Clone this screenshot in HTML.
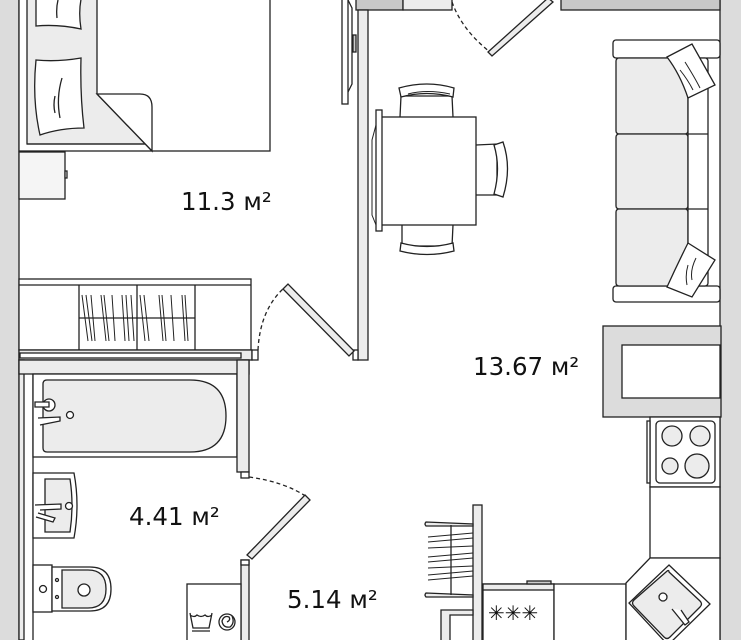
<!DOCTYPE html>
<html><head><meta charset="utf-8"><style>
html,body{margin:0;padding:0;background:#fff;width:741px;height:640px;overflow:hidden}
svg{display:block}
text{font-family:"DejaVu Sans","Liberation Sans",sans-serif;font-size:24.5px;fill:#111}
</style></head><body>
<svg width="741" height="640" viewBox="0 0 741 640" xmlns="http://www.w3.org/2000/svg" stroke="#222" stroke-width="1.3" fill="none">
<rect x="-1" y="-1" width="20" height="642" fill="#dcdcdc"/>
<rect x="720" y="-1" width="22" height="642" fill="#dcdcdc"/>
<rect x="356" y="-1" width="47" height="11" fill="#c8c8c8"/>
<rect x="403" y="-1" width="49" height="11" fill="#ececec"/>
<rect x="561" y="-1" width="159" height="11" fill="#c8c8c8"/>
<path d="M452 2 Q462 30 490 52" stroke-dasharray="4 3"/>
<polygon points="488,52 548,-2 553,2 492,56" fill="#ececec"/>
<rect x="19" y="-5" width="251" height="156" fill="#fff"/>
<polygon points="27,-5 97,-5 97,94 152,151 150,144 27,144" fill="#ececec"/>
<path d="M97 94 L140 94 Q152 94 152 107 L152 151 Z" fill="#fff"/>
<line x1="27" y1="144" x2="145" y2="144"/>
<path d="M36 -5 L36 26 Q58 24 81 29 Q78 10 82 -5" fill="#fff"/>
<path d="M36 60 Q58 62 81 58 Q80 95 84 128 Q60 128 40 135 Q32 100 36 60Z" fill="#fff"/>
<path d="M62 78 Q56 98 60 118 M55 96 Q53 105 55 113"/>
<path d="M58 0 Q56 8 57 18"/>
<rect x="19" y="152" width="46" height="47" fill="#f5f5f5"/>
<rect x="65" y="171" width="2" height="7" fill="#fff"/>
<rect x="342" y="-2" width="6" height="106" fill="#fff"/>
<path d="M348 0 L352 8 L352 84 L348 92"/>
<rect x="353" y="35" width="3" height="17" fill="#ccc"/>
<rect x="358" y="10" width="10" height="350" fill="#ececec"/>
<rect x="19" y="279" width="232" height="71" fill="#fff"/>
<line x1="19" y1="285" x2="251" y2="285"/>
<line x1="79" y1="285" x2="79" y2="350"/><line x1="137" y1="285" x2="137" y2="350"/><line x1="195" y1="285" x2="195" y2="350"/>
<line x1="79" y1="318" x2="195" y2="318"/>
<path d="M82 295 L88 341 M86 295 L92 341 M101 295 L106 341 M104 295 L109 341 M112 295 L115 341 M122 295 L125 341 M126 295 L129 341 M140 295 L145 341 M144 295 L149 341 M159 295 L163 341 M162 295 L166 341 M182 295 L185 341 M185 295 L188 341 M91 295 L95 341 M131 295 L134 341 M171 295 L174 341" stroke-width="1"/>
<rect x="19" y="350" width="233" height="10" fill="#ececec"/>
<rect x="20" y="353" width="221" height="5" fill="#fff"/>
<rect x="252" y="350" width="6" height="10" fill="#fff"/>
<rect x="353" y="350" width="5" height="10" fill="#fff"/>
<path d="M258 350 Q260 310 284 288" stroke-dasharray="4 3"/>
<polygon points="283,289 288,284 354,351 349,356" fill="#ececec"/>
<rect x="19" y="360" width="5" height="280" fill="#ececec"/>
<line x1="33" y1="374" x2="33" y2="640"/>
<rect x="19" y="360" width="230" height="14" fill="#ececec"/>
<rect x="33" y="374" width="204" height="83" fill="#fff"/>
<path d="M47 380 L190 380 Q226 380 226 416 Q226 452 190 452 L47 452 Q43 452 43 448 L43 384 Q43 380 47 380Z" fill="#ececec"/>
<circle cx="49" cy="405" r="6" fill="#fff"/>
<path d="M35 402 L49 402 L49 407 L35 407Z M38 418 L60 417 L60 421 L40 425" fill="#fff"/>
<circle cx="70" cy="415" r="3.5" fill="#fff"/>
<rect x="237" y="360" width="12" height="112" fill="#ececec"/>
<rect x="241" y="472" width="8" height="6" fill="#fff"/>
<path d="M249 477 Q285 482 307 497" stroke-dasharray="4 3"/>
<polygon points="305,495 310,500 252,559 247,555" fill="#ececec"/>
<rect x="241" y="560" width="8" height="82" fill="#ececec"/>
<rect x="241" y="560" width="8" height="5" fill="#fff"/>
<path d="M33 473 L74 473 Q80 505 74 538 L33 538Z" fill="#fff"/>
<path d="M45 479 L70 479 Q74 505 70 532 L45 532Z" fill="#ececec"/>
<path d="M35 505 L61 504 L61 509 L40 510 M38 513 L55 518 L53 522 L36 517" fill="#fff"/>
<circle cx="69" cy="506" r="3.5" fill="#fff"/>
<rect x="33" y="565" width="19" height="47" fill="#fff"/>
<path d="M52 567 L90 567 Q111 567 111 589 Q111 611 90 611 L52 611Z" fill="#fff"/>
<path d="M62 570 L88 570 Q106 570 106 589 Q106 608 88 608 L62 608Z" fill="#ececec"/>
<circle cx="84" cy="590" r="6" fill="#fff"/><circle cx="43" cy="589" r="3.5" fill="#fff"/>
<circle cx="57" cy="580" r="1.5"/><circle cx="57" cy="597" r="1.5"/>
<rect x="187" y="584" width="54" height="60" fill="#fff"/>
<path d="M190 613 L193 628 L209 628 L212 613 M190 615 Q194 618 197 615 Q201 618 205 615 Q208 618 212 615 M192 631 L210 631"/>
<circle cx="227" cy="622" r="8"/><path d="M227 622 Q231 620 229 617 Q224 615 222 621 Q223 628 230 627 Q235 623 232 616"/>
<rect x="473" y="505" width="9" height="137" fill="#ececec"/>
<path d="M426 522 L473 524 L473 526 L426 526 Q424 524 426 522Z M426 593 L473 595 L473 597 L426 597 Q424 595 426 593Z" fill="#ececec"/>
<line x1="451" y1="525" x2="451" y2="595"/>
<path d="M428 537 L473 533 M428 542 L473 538 M428 557 L473 553 M428 562 L473 558 M428 575 L473 571 M428 580 L473 576 M428 548 L473 546 M428 568 L473 566" stroke-width="1"/>
<path d="M441 642 L441 610 L473 610 L473 615 L450 615 L450 642" fill="#ececec"/>
<rect x="483" y="584" width="71" height="60" fill="#fff"/>
<rect x="483" y="584" width="71" height="6" fill="#ececec"/>
<rect x="527" y="581" width="24" height="3" fill="#ccc"/>
<text x="488" y="620" stroke="none" style="font-size:20px">✳✳✳</text>
<rect x="554" y="584" width="72" height="60" fill="#fff"/>
<rect x="603" y="326" width="118" height="91" fill="#dcdcdc"/>
<rect x="622" y="345" width="98" height="53" fill="#fff"/>
<rect x="650" y="417" width="70" height="70" fill="#fff"/>
<rect x="647" y="421" width="3" height="62" fill="#fff"/>
<rect x="656" y="421" width="59" height="62" rx="4" fill="#fff"/>
<circle cx="672" cy="436" r="10" fill="#ececec"/><circle cx="700" cy="436" r="10" fill="#ececec"/>
<circle cx="670" cy="466" r="8" fill="#ececec"/><circle cx="697" cy="466" r="12" fill="#ececec"/>
<rect x="650" y="487" width="70" height="71" fill="#fff"/>
<polygon points="650,558 720,558 720,642 626,642 626,583" fill="#fff"/>
<path d="M669 565 L710 604 L668 645 L629 603Z" fill="#fff"/>
<path d="M669 572 L700 601 Q703 604 700 607 L670 637 Q667 640 664 637 L634 606 Q631 603 634 600 L666 572 Q669 569 669 572Z" fill="#ececec"/>
<circle cx="663" cy="597" r="4" fill="#fff"/>
<path d="M672 609 L685 625 L689 622 L681 610" fill="#fff"/>
<rect x="613" y="40" width="107" height="18" rx="3" fill="#fff"/>
<rect x="613" y="286" width="107" height="16" rx="3" fill="#fff"/>
<rect x="616" y="58" width="72" height="76" rx="3" fill="#ececec"/>
<rect x="616" y="134" width="72" height="75" rx="3" fill="#ececec"/>
<rect x="616" y="209" width="72" height="77" rx="3" fill="#ececec"/>
<rect x="688" y="58" width="20" height="228" rx="3" fill="#fff"/>
<line x1="688" y1="134" x2="708" y2="134"/><line x1="688" y1="209" x2="708" y2="209"/>
<path d="M667 57 L692 44 L715 85 L688 98 Q680 74 667 57Z" fill="#fff"/>
<path d="M667 287 L692 297 L715 260 L688 243 Q677 265 667 287Z" fill="#fff"/>
<path d="M685 62 Q695 78 700 88 M680 70 Q688 80 693 90 M688 265 Q685 275 687 285 M696 258 Q690 270 692 280" stroke-width="1"/>
<path d="M400 117 L401 96 L452 96 L453 117" fill="#fff"/>
<path d="M399 88 Q427 80 454 88 L453 97 Q427 90 401 97Z" fill="#fff"/>
<path d="M408 94 Q427 89 450 94" stroke-width="1"/>
<path d="M402 225 L402 246 L452 246 L453 225" fill="#fff"/>
<path d="M400 251 Q427 258 454 251 L453 243 Q427 250 401 243Z" fill="#fff"/>
<path d="M476 145 L497 144 L497 195 L476 195" fill="#fff"/>
<path d="M503 142 Q512 168 503 197 L494 194 Q501 168 494 145Z" fill="#fff"/>
<rect x="380" y="117" width="96" height="108" fill="#fff"/>
<rect x="376" y="110" width="6" height="121" fill="#fff"/>
<path d="M376 125 L372 140 L372 215 L376 225" stroke-width="1"/>
<text x="181" y="210" stroke="none">11.3 м²</text>
<text x="473" y="375" stroke="none">13.67 м²</text>
<text x="129" y="525" stroke="none">4.41 м²</text>
<text x="287" y="608" stroke="none">5.14 м²</text>
</svg>
</body></html>
